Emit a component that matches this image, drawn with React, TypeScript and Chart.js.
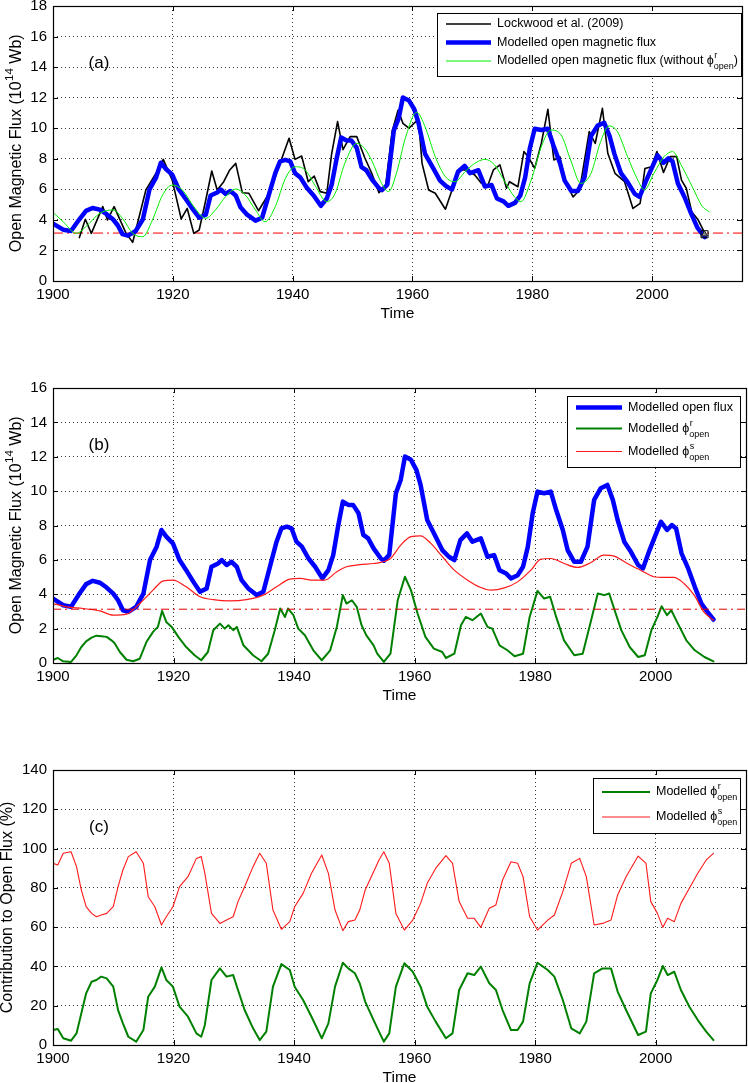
import React, { useEffect, useRef } from 'react';
import { Chart, registerables } from 'chart.js';

Chart.register(...registerables);

const FONT = '"Liberation Sans", Arial, Helvetica, "DejaVu Sans", sans-serif';

// ---------- panel (a) ----------
const lockwoodYears = [
  1904.4, 1905.4, 1906.4, 1908.3, 1909.1, 1910.2, 1912.2, 1913.3, 1915.5, 1917.2, 1918.4, 1919.9,
  1921.4, 1922.4, 1923.5, 1924.4, 1925.5, 1926.5, 1927.4, 1928.5, 1929.5, 1930.5, 1931.6, 1932.7,
  1934.3, 1935.7, 1936.8, 1938.1, 1939.4, 1940.4, 1941.5, 1942.6, 1943.6, 1944.6, 1945.7, 1946.5,
  1947.5, 1948.4, 1949.6, 1950.7, 1952.0, 1953.2, 1954.4, 1955.5, 1956.6, 1957.6, 1958.4, 1959.4,
  1961.0, 1961.6, 1962.7, 1963.8, 1965.5, 1966.6, 1967.7, 1969.1, 1970.4, 1971.5, 1972.6, 1973.5,
  1974.6, 1975.7, 1976.2, 1977.6, 1978.6, 1979.3, 1980.4, 1981.5, 1982.6, 1983.6, 1984.6, 1985.4,
  1986.8, 1987.9, 1989.5, 1990.5, 1991.7, 1992.6, 1993.8, 1995.4, 1996.8, 1998.0, 1998.8, 1999.9,
  2000.8, 2001.9, 2003.0, 2004.1, 2004.9, 2005.7, 2006.6, 2007.7, 2008.8,
];
const lockwoodFlux = [
  2.84, 4.04, 3.12, 4.87, 4.0, 4.87, 3.12, 2.53, 5.96, 7.05, 7.96, 6.6,
  4.06, 4.75, 3.12, 3.34, 5.3, 7.2, 5.96, 6.5, 7.27, 7.7, 5.78, 5.74,
  4.6, 5.5, 6.5, 7.92, 9.34, 7.96, 8.18, 6.5, 6.87, 5.85, 5.74, 8.3,
  10.43, 8.6, 9.45, 9.45, 8.1, 7.05, 5.78, 6.17, 9.78, 11.19, 10.32, 10.0,
  10.6, 7.7, 5.96, 5.74, 4.7, 5.96, 7.27, 7.27, 6.94, 6.4, 6.28, 7.27,
  7.6, 6.07, 6.5, 6.17, 8.47, 8.14, 7.37, 9.0, 11.24, 7.92, 8.14, 6.6,
  5.5, 5.96, 9.78, 9.0, 11.3, 8.36, 7.05, 6.5, 4.75, 5.08, 7.37, 7.48,
  8.47, 7.1, 8.14, 8.14, 6.6, 6.07, 4.54, 3.99, 3.12,
];

// modelled open flux (panels a and b)
const modelYears = [
  1900.0, 1901.7, 1903.0, 1904.4, 1905.5, 1906.6, 1907.8, 1908.9, 1910.0, 1910.8, 1911.6, 1912.5,
  1913.8, 1915.0, 1916.1, 1917.2, 1918.0, 1918.8, 1919.9, 1921.0, 1922.1, 1923.3, 1924.4, 1925.5,
  1926.3, 1927.4, 1928.0, 1928.8, 1929.6, 1930.5, 1931.3, 1932.4, 1933.8, 1934.9, 1936.0, 1937.1,
  1937.9, 1938.8, 1939.6, 1940.4, 1941.3, 1942.4, 1943.5, 1944.7, 1945.7, 1946.5, 1947.3, 1948.1,
  1949.0, 1949.8, 1950.7, 1951.5, 1952.3, 1953.2, 1954.4, 1954.9, 1955.8, 1956.9, 1957.7, 1958.4,
  1959.4, 1960.3, 1961.0, 1962.1, 1963.5, 1964.6, 1965.7, 1966.6, 1967.6, 1968.7, 1969.6, 1971.0,
  1972.1, 1973.2, 1974.1, 1975.2, 1976.0, 1977.1, 1978.0, 1978.8, 1979.6, 1980.4, 1981.5, 1982.6,
  1983.5, 1984.6, 1985.4, 1986.5, 1987.6, 1988.7, 1989.8, 1990.9, 1992.0, 1992.9, 1993.7, 1994.8,
  1995.9, 1997.1, 1997.9, 1999.0, 2000.1, 2000.9, 2001.9, 2002.7, 2003.4, 2004.3, 2005.4, 2006.5,
  2007.6, 2008.8, 2009.6,
];
const modelFlux = [
  3.75, 3.36, 3.27, 4.04, 4.59, 4.78, 4.67, 4.39, 4.04, 3.65, 3.07, 2.97,
  3.27, 4.04, 5.99, 6.77, 7.74, 7.35, 6.96, 5.99, 5.4, 4.72, 4.14, 4.34,
  5.6, 5.79, 5.99, 5.7, 5.89, 5.6, 4.82, 4.34, 3.95, 4.14, 5.6, 7.06,
  7.83, 7.93, 7.83, 7.06, 6.77, 6.08, 5.6, 4.92, 5.4, 6.28, 7.93, 9.39,
  9.2, 9.2, 8.71, 7.45, 7.25, 6.67, 6.08, 5.95, 6.3, 9.88, 10.65, 12.01,
  11.82, 11.24, 10.36, 8.32, 7.35, 6.57, 6.18, 5.99, 7.15, 7.54, 7.06, 7.25,
  6.18, 6.28, 5.4, 5.21, 4.92, 5.11, 5.6, 6.77, 8.71, 9.97, 9.88, 9.97,
  8.9, 7.74, 6.57, 5.89, 5.89, 6.77, 9.49, 10.17, 10.36, 9.49, 8.32, 7.06,
  6.47, 5.7, 5.5, 6.57, 7.54, 8.22, 7.74, 8.03, 7.83, 6.38, 5.5, 4.43,
  3.46, 2.88, 2.53,
];
// panel (a) shows the modelled flux only up to the marked end point
const panelAEndYear = 2008.8;

// modelled open flux without the rising component
const noRiseYears = [
  1900.0, 1901.7, 1903.9, 1905.5, 1907.8, 1910.0, 1911.6, 1913.3, 1915.0, 1916.6, 1918.3, 1919.9,
  1921.6, 1923.5, 1925.5, 1927.1, 1928.8, 1930.5, 1932.1, 1933.8, 1935.4, 1937.1, 1938.8, 1940.4,
  1942.1, 1943.7, 1945.7, 1947.1, 1948.7, 1950.7, 1952.0, 1953.3, 1954.7, 1956.0, 1957.4, 1958.8,
  1960.7, 1962.1, 1963.8, 1965.5, 1967.1, 1968.8, 1970.4, 1972.1, 1973.7, 1975.4, 1977.0, 1978.1,
  1979.8, 1981.5, 1983.1, 1984.8, 1986.4, 1988.1, 1989.8, 1991.4, 1992.8, 1994.2, 1995.9, 1997.6,
  1998.7, 2000.3, 2002.0, 2003.4, 2005.0, 2006.7, 2008.4, 2009.5,
];
const noRiseFlux = [
  4.49, 3.88, 3.12, 3.56, 4.43, 4.65, 4.1, 3.12, 2.9, 4.0, 5.63, 6.28,
  5.96, 4.87, 4.1, 4.65, 5.52, 6.02, 5.63, 4.65, 3.88, 4.87, 6.72, 7.48,
  7.27, 6.28, 5.19, 5.74, 7.7, 9.01, 8.68, 7.81, 6.5, 5.85, 7.16, 9.34,
  11.04, 10.1, 8.14, 6.83, 6.5, 7.16, 7.7, 7.96, 7.6, 6.5, 5.52, 5.19,
  6.6, 8.79, 9.88, 9.56, 7.92, 6.39, 7.05, 9.12, 10.15, 9.78, 8.14, 6.61,
  5.96, 7.05, 8.14, 8.47, 7.48, 6.17, 4.87, 4.54,
];

const floorYears = [1900, 2015];
const floorFlux = [3.13, 3.13];
const endMarkYear = [2008.75];
const endMarkFlux = [3.06];

// ---------- panel (b) ----------
const rapidYears = [
  1900.0, 1900.8, 1901.7, 1903.0, 1903.9, 1904.7, 1905.5, 1906.4, 1907.2, 1908.0, 1908.9, 1909.7,
  1910.2, 1911.1, 1912.2, 1913.3, 1914.4, 1915.5, 1916.6, 1917.4, 1918.1, 1918.8, 1919.7, 1920.8,
  1922.1, 1923.5, 1924.6, 1925.7, 1926.6, 1927.7, 1928.5, 1929.1, 1929.9, 1930.5, 1931.6, 1933.2,
  1934.6, 1935.7, 1936.8, 1937.7, 1938.5, 1939.0, 1939.9, 1940.7, 1941.8, 1943.2, 1944.6, 1946.0,
  1947.1, 1948.1, 1948.7, 1949.6, 1950.4, 1951.2, 1952.0, 1953.2, 1953.8, 1954.9, 1956.0, 1957.2,
  1958.4, 1959.4, 1960.5, 1961.8, 1963.2, 1964.6, 1965.2, 1966.6, 1967.7, 1968.5, 1969.6, 1971.0,
  1972.1, 1972.9, 1974.1, 1975.4, 1976.6, 1978.0, 1979.1, 1980.4, 1981.5, 1982.5, 1983.5, 1984.8,
  1986.5, 1987.9, 1989.3, 1990.4, 1991.5, 1992.3, 1993.2, 1994.3, 1995.7, 1997.1, 1998.2, 1999.3,
  2000.3, 2001.0, 2001.9, 2002.6, 2003.7, 2005.1, 2006.5, 2008.1, 2009.6,
];
const rapidFlux = [
  0.19, 0.29, 0.1, 0.06, 0.45, 0.93, 1.26, 1.48, 1.59, 1.56, 1.52, 1.32,
  1.17, 0.64, 0.19, 0.1, 0.25, 1.22, 1.81, 2.1, 3.03, 2.39, 2.1, 1.52,
  0.93, 0.45, 0.16, 0.64, 1.91, 2.29, 2.0, 2.2, 1.91, 2.1, 1.03, 0.45,
  0.1, 0.54, 1.91, 3.17, 2.68, 3.17, 2.78, 2.0, 1.61, 0.74, 0.16, 0.74,
  2.1, 3.95, 3.46, 3.65, 3.27, 2.2, 1.61, 1.03, 0.54, 0.06, 0.54, 3.65,
  5.02, 4.24, 2.88, 1.52, 0.84, 0.64, 0.29, 0.54, 2.2, 2.68, 2.49, 2.88,
  2.1, 2.0, 1.03, 0.74, 0.39, 0.54, 2.68, 4.2, 3.75, 3.85, 2.68, 1.32,
  0.45, 0.54, 2.49, 4.04, 3.95, 4.04, 3.07, 1.91, 0.93, 0.35, 0.45, 1.91,
  2.68, 3.3, 2.78, 3.07, 2.29, 1.32, 0.74, 0.35, 0.1,
];

const slowYears = [
  1900.0, 1902.2, 1905.0, 1907.8, 1910.0, 1912.2, 1914.4, 1916.6, 1918.3, 1919.9, 1922.1, 1924.4,
  1926.6, 1929.3, 1932.1, 1934.9, 1937.1, 1939.3, 1941.0, 1943.2, 1945.1, 1947.1, 1948.7, 1950.9,
  1953.2, 1954.4, 1956.0, 1957.7, 1959.4, 1961.0, 1962.7, 1964.4, 1966.6, 1968.8, 1971.0, 1972.7,
  1974.9, 1977.1, 1979.3, 1980.9, 1982.6, 1984.8, 1987.0, 1989.2, 1991.4, 1993.1, 1995.3, 1997.5,
  1999.7, 2001.4, 2003.0, 2004.7, 2006.4, 2008.0, 2009.6,
];
const slowFlux = [
  3.46, 3.27, 3.17, 3.03, 2.78, 2.84, 3.46, 4.24, 4.78, 4.82, 4.43, 3.85,
  3.69, 3.62, 3.69, 3.95, 4.43, 4.88, 4.92, 4.82, 4.82, 5.31, 5.6, 5.72,
  5.79, 5.85, 6.08, 6.86, 7.35, 7.4, 6.96, 6.28, 5.4, 4.82, 4.39, 4.24,
  4.37, 4.72, 5.4, 6.03, 6.08, 5.79, 5.56, 5.83, 6.28, 6.22, 5.79, 5.4,
  5.02, 4.98, 4.98, 4.63, 3.95, 2.97, 2.49,
];

// ---------- panel (c) ----------
const shareYears = [
  1900.0, 1900.8, 1901.7, 1903.0, 1903.9, 1904.7, 1905.5, 1906.4, 1907.2, 1908.0, 1908.9, 1910.0,
  1910.8, 1911.6, 1912.5, 1913.8, 1915.0, 1915.8, 1916.9, 1918.0, 1918.8, 1919.9, 1921.0, 1922.4,
  1923.8, 1924.6, 1925.2, 1926.3, 1927.7, 1928.8, 1929.9, 1930.7, 1931.8, 1933.2, 1934.3, 1935.4,
  1936.5, 1937.9, 1939.3, 1940.1, 1941.5, 1942.9, 1944.6, 1945.7, 1946.8, 1948.1, 1949.0, 1950.1,
  1950.9, 1951.8, 1953.2, 1954.1, 1954.9, 1955.8, 1956.9, 1958.3, 1959.7, 1961.0, 1962.1, 1963.5,
  1965.2, 1966.3, 1967.4, 1968.8, 1969.9, 1971.0, 1972.4, 1973.5, 1974.6, 1976.0, 1977.1, 1978.0,
  1979.1, 1980.4, 1982.1, 1983.2, 1984.6, 1986.0, 1987.4, 1988.5, 1989.8, 1991.2, 1992.6, 1993.7,
  1995.1, 1997.1, 1998.4, 1999.2, 2000.3, 2001.2, 2002.0, 2003.1, 2004.2, 2005.6, 2007.0, 2008.4,
  2009.6,
];
const rapidShare = [
  7.6, 8.1, 3.4, 2.2, 5.9, 16.1, 26.3, 32.2, 33.1, 34.8, 33.9, 29.7,
  17.8, 11.0, 4.2, 1.7, 7.6, 24.6, 29.7, 39.5, 33.1, 29.7, 19.5, 14.4,
  5.9, 4.2, 10.2, 33.1, 39.0, 34.8, 35.6, 28.0, 17.8, 8.5, 2.5, 6.8,
  29.7, 41.2, 38.2, 29.7, 22.9, 14.4, 3.4, 11.0, 29.7, 41.9, 39.0, 36.5,
  31.4, 22.1, 12.7, 6.8, 1.7, 5.9, 29.7, 41.6, 37.3, 29.7, 19.5, 11.9,
  3.4, 5.9, 28.0, 36.5, 35.6, 39.9, 31.4, 28.0, 17.8, 7.6, 7.6, 11.9,
  31.4, 41.9, 38.2, 34.8, 22.9, 8.5, 5.9, 11.9, 36.5, 39.0, 39.0, 27.2,
  17.8, 5.1, 6.8, 26.3, 33.1, 40.2, 35.6, 37.3, 28.0, 19.5, 12.7, 6.8,
  2.5,
];
const slowShare = [
  92.5, 91.6, 97.6, 98.4, 90.8, 78.9, 70.4, 67.0, 65.3, 66.2, 67.0, 70.4,
  80.6, 89.1, 95.9, 98.4, 92.5, 75.5, 70.4, 61.1, 65.3, 70.4, 80.6, 85.7,
  95.0, 95.9, 87.4, 67.0, 61.9, 63.6, 65.3, 73.0, 80.6, 90.8, 97.6, 92.5,
  68.7, 58.9, 62.8, 70.4, 77.2, 87.4, 96.7, 87.4, 68.7, 58.2, 62.8, 63.6,
  68.7, 78.9, 88.2, 94.2, 98.4, 92.5, 67.0, 58.5, 63.6, 72.1, 82.3, 89.9,
  96.4, 92.5, 73.0, 64.5, 64.5, 59.9, 69.6, 71.3, 84.0, 93.3, 92.5, 85.7,
  65.3, 58.5, 63.6, 66.2, 78.1, 92.5, 95.0, 85.7, 61.1, 61.9, 63.6, 76.4,
  85.7, 96.2, 92.5, 73.0, 67.0, 59.9, 64.5, 62.8, 72.1, 79.8, 87.4, 94.2,
  97.6,
];

const xTicks = [1900, 1920, 1940, 1960, 1980, 2000];

// ---------- helpers ----------
type Part = { t: string; sup?: string; sub?: string };

const pts = (xs: number[], ys: number[]) => xs.map((x, i) => ({ x, y: ys[i] }));

function richWidth(ctx: CanvasRenderingContext2D, parts: Part[], size: number) {
  let w = 0;
  for (const p of parts) {
    ctx.font = `${size}px ${FONT}`;
    w += ctx.measureText(p.t).width;
    if (p.sup || p.sub) {
      ctx.font = `${size * 0.72}px ${FONT}`;
      w += Math.max(p.sup ? ctx.measureText(p.sup).width : 0, p.sub ? ctx.measureText(p.sub).width : 0);
    }
  }
  return w;
}

function drawRich(ctx: CanvasRenderingContext2D, parts: Part[], x: number, y: number, size: number) {
  ctx.textAlign = 'left';
  ctx.textBaseline = 'middle';
  let cx = x;
  for (const p of parts) {
    ctx.font = `${size}px ${FONT}`;
    ctx.fillText(p.t, cx, y);
    cx += ctx.measureText(p.t).width;
    if (p.sup || p.sub) {
      ctx.font = `${size * 0.72}px ${FONT}`;
      let w = 0;
      if (p.sup) {
        ctx.fillText(p.sup, cx + 0.5, y - size * 0.42);
        w = Math.max(w, ctx.measureText(p.sup).width + 0.5);
      }
      if (p.sub) {
        ctx.fillText(p.sub, cx, y + size * 0.45);
        w = Math.max(w, ctx.measureText(p.sub).width);
      }
      cx += w;
    }
  }
}

type LegendRow = { color: string; width: number; parts: Part[] };
type LegendBox = { x: number; y: number; w: number; h: number; lineX0: number; lineX1: number; textX: number; rowY: number[] };

type PanelProps = {
  top: number;
  yMax: number;
  yStep: number;
  datasets: any[];
  yTitle: Part[];
  yTitleX: number;
  tag: string;
  legendBox: LegendBox;
  legendRows: LegendRow[];
};

const Panel: React.FC<PanelProps> = ({ top, yMax, yStep, datasets, yTitle, yTitleX, tag, legendBox, legendRows }) => {
  const canvasRef = useRef<HTMLCanvasElement>(null);

  useEffect(() => {
    if (!canvasRef.current) return;

    const deco = {
      id: 'matlabDeco',
      afterDraw(chart: any) {
        const { ctx, chartArea } = chart;
        const { left, right, top: t, bottom } = chartArea;
        const xs = chart.scales.x;
        const ys = chart.scales.y;
        ctx.save();

        // inward tick marks on all four sides
        ctx.strokeStyle = '#000';
        ctx.lineWidth = 1;
        ctx.beginPath();
        xs.ticks.forEach((tk: any) => {
          const px = Math.round(xs.getPixelForValue(tk.value)) + 0.5;
          ctx.moveTo(px, bottom);
          ctx.lineTo(px, bottom - 5);
          ctx.moveTo(px, t);
          ctx.lineTo(px, t + 5);
        });
        ys.ticks.forEach((tk: any) => {
          const py = Math.round(ys.getPixelForValue(tk.value)) + 0.5;
          ctx.moveTo(left, py);
          ctx.lineTo(left + 5, py);
          ctx.moveTo(right, py);
          ctx.lineTo(right - 5, py);
        });
        ctx.stroke();

        // axes box
        ctx.lineWidth = 1.2;
        ctx.strokeRect(Math.round(left) + 0.5, Math.round(t) + 0.5, Math.round(right - left), Math.round(bottom - t));

        // panel tag
        ctx.fillStyle = '#000';
        ctx.font = `17px ${FONT}`;
        ctx.textAlign = 'center';
        ctx.textBaseline = 'middle';
        ctx.fillText(tag, 99, t + 57);

        // rotated y title
        ctx.save();
        ctx.translate(yTitleX, (t + bottom) / 2);
        ctx.rotate(-Math.PI / 2);
        const w = richWidth(ctx, yTitle, 16);
        drawRich(ctx, yTitle, -w / 2, 0, 16);
        ctx.restore();

        // legend
        const b = legendBox;
        ctx.fillStyle = '#fff';
        ctx.fillRect(b.x, b.y, b.w, b.h);
        ctx.strokeStyle = '#000';
        ctx.lineWidth = 1;
        ctx.strokeRect(b.x + 0.5, b.y + 0.5, b.w, b.h);
        legendRows.forEach((r, i) => {
          const y = b.rowY[i];
          ctx.beginPath();
          ctx.strokeStyle = r.color;
          ctx.lineWidth = r.width;
          ctx.moveTo(b.lineX0, y);
          ctx.lineTo(b.lineX1, y);
          ctx.stroke();
          ctx.fillStyle = '#000';
          drawRich(ctx, r.parts, b.textX, y, 12.5);
        });

        ctx.restore();
      },
    };

    const chart = new Chart(canvasRef.current, {
      type: 'line',
      data: { datasets },
      options: {
        responsive: false,
        animation: false,
        events: [],
        layout: { padding: { top: 6, right: 2, bottom: 0, left: 0 } },
        elements: { point: { radius: 0 } },
        plugins: { legend: { display: false }, tooltip: { enabled: false } },
        scales: {
          x: {
            type: 'linear',
            min: 1900,
            max: 2015,
            afterBuildTicks: (s: any) => {
              s.ticks = xTicks.map((v) => ({ value: v }));
            },
            afterFit: (s: any) => {
              s.height = 49;
              s.paddingLeft = 0;
              s.paddingRight = 0;
            },
            ticks: {
              color: '#000',
              font: { family: FONT, size: 15 },
              padding: 5,
              maxRotation: 0,
              autoSkip: false,
              callback: (v: any) => String(v),
            },
            grid: { color: 'rgba(0,0,0,0.8)', lineWidth: 1, drawTicks: false },
            border: { display: false, dash: [1, 3] },
            title: {
              display: true,
              text: 'Time',
              color: '#000',
              font: { family: FONT, size: 15.5 },
              padding: { top: 0, bottom: 6.6 },
            },
          },
          y: {
            type: 'linear',
            min: 0,
            max: yMax,
            afterFit: (s: any) => {
              s.width = 53;
              s.paddingTop = 0;
              s.paddingBottom = 0;
            },
            ticks: {
              stepSize: yStep,
              color: '#000',
              font: { family: FONT, size: 15 },
              padding: 6,
            },
            grid: { color: 'rgba(0,0,0,0.8)', lineWidth: 1, drawTicks: false },
            border: { display: false, dash: [1, 3] },
          },
        },
      } as any,
      plugins: [deco],
    });

    return () => {
      chart.destroy();
    };
  }, []);

  return (
    <canvas
      ref={canvasRef}
      width={748}
      height={330}
      style={{ position: 'absolute', left: 0, top, width: 748, height: 330 }}
    />
  );
};

const fluxTitle: Part[] = [{ t: 'Open Magnetic Flux (10', sup: '14' }, { t: ' Wb)' }];
const phiR: Part = { t: 'Modelled ϕ', sup: 'r', sub: 'open' };
const phiS: Part = { t: 'Modelled ϕ', sup: 's', sub: 'open' };

const line = (data: any[], color: string, width: number, order: number, extra: any = {}) => ({
  data,
  borderColor: color,
  backgroundColor: color,
  borderWidth: width,
  pointRadius: 0,
  fill: false,
  tension: 0,
  order,
  borderJoinStyle: 'round',
  borderCapStyle: 'round',
  ...extra,
});

export default function App() {
  const modelA = pts(modelYears, modelFlux).filter((p) => p.x <= panelAEndYear);

  const datasetsA = [
    line(pts(floorYears, floorFlux), '#ff6a6a', 1.8, 5, { borderDash: [10, 4, 2, 4], borderCapStyle: 'butt' }),
    line(pts(lockwoodYears, lockwoodFlux), '#000000', 1.6, 4),
    line(modelA, '#0000ff', 4.5, 3),
    line(pts(noRiseYears, noRiseFlux), '#00ee00', 1, 2, { tension: 0.4, cubicInterpolationMode: 'monotone' }),
    line(pts(endMarkYear, endMarkFlux), '#000000', 1, 1, {
      showLine: false,
      pointRadius: 5,
      pointStyle: 'rect',
      pointBackgroundColor: 'rgba(0,0,0,0)',
      pointBorderColor: '#000',
      pointBorderWidth: 1,
    }),
    line(pts(endMarkYear, endMarkFlux), '#000000', 1, 0, {
      showLine: false,
      pointRadius: 3.5,
      pointStyle: 'triangle',
      pointBackgroundColor: '#888',
      pointBorderColor: '#222',
      pointBorderWidth: 1,
    }),
  ];

  const datasetsB = [
    line(pts(modelYears, modelFlux), '#0000ff', 4.5, 4),
    line(pts(rapidYears, rapidFlux), '#008000', 2, 3),
    line(pts(slowYears, slowFlux), '#ff1a1a', 1.2, 2, { tension: 0.4, cubicInterpolationMode: 'monotone' }),
    line(pts(floorYears, floorFlux), '#e00000', 1, 1, { borderDash: [8, 4, 2, 4], borderCapStyle: 'butt' }),
  ];

  const datasetsC = [
    line(pts(shareYears, rapidShare), '#008000', 2, 2),
    line(pts(shareYears, slowShare), '#ff1a1a', 1.1, 1),
  ];

  return (
    <div
      style={{
        position: 'absolute',
        left: 0,
        top: 0,
        width: 748,
        height: 1083,
        overflow: 'hidden',
        background: '#fff',
      }}
    >
      <Panel
        top={0}
        yMax={18}
        yStep={2}
        datasets={datasetsA}
        yTitle={fluxTitle}
        yTitleX={17}
        tag="(a)"
        legendBox={{ x: 437, y: 13, w: 304, h: 63, lineX0: 446, lineX1: 491, textX: 497, rowY: [24, 42.5, 61] }}
        legendRows={[
          { color: '#000000', width: 1.6, parts: [{ t: 'Lockwood et al. (2009)' }] },
          { color: '#0000ff', width: 4.5, parts: [{ t: 'Modelled open magnetic flux' }] },
          {
            color: '#00ee00',
            width: 1,
            parts: [{ t: 'Modelled open magnetic flux (without ϕ', sup: 'r', sub: 'open' }, { t: ')' }],
          },
        ]}
      />
      <Panel
        top={382}
        yMax={16}
        yStep={2}
        datasets={datasetsB}
        yTitle={fluxTitle}
        yTitleX={17}
        tag="(b)"
        legendBox={{ x: 567, y: 14, w: 173, h: 71, lineX0: 576, lineX1: 622, textX: 628, rowY: [25.5, 46.5, 69.5] }}
        legendRows={[
          { color: '#0000ff', width: 4.5, parts: [{ t: 'Modelled open flux' }] },
          { color: '#008000', width: 2, parts: [phiR] },
          { color: '#ff1a1a', width: 1.2, parts: [phiS] },
        ]}
      />
      <Panel
        top={764}
        yMax={140}
        yStep={20}
        datasets={datasetsC}
        yTitle={[{ t: 'Contribution to Open Flux (%)' }]}
        yTitleX={8}
        tag="(c)"
        legendBox={{ x: 593, y: 14, w: 147, h: 55, lineX0: 602, lineX1: 650, textX: 656, rowY: [28, 53] }}
        legendRows={[
          { color: '#008000', width: 2, parts: [phiR] },
          { color: '#ff1a1a', width: 1.1, parts: [phiS] },
        ]}
      />
    </div>
  );
}
